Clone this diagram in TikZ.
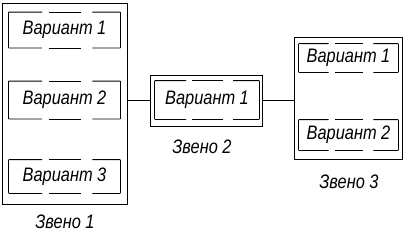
\documentclass[tikz,border=0pt]{standalone}
\usepackage{fontspec}
\usepackage{tikz}
\usetikzlibrary{calc}
\newfontfamily\gost{Liberation Sans}
\newcommand\narrow[1]{\scalebox{0.84}[1]{#1}}

% frame of a variant: solid sides, broken top and bottom
\newcommand\varframe[1]{%
	\draw (#1.north west) -- (#1.south west);
	\draw (#1.north east) -- (#1.south east);
	\draw (#1.north west) -- ($(#1.north west)!0.3!(#1.north east)$);
	\draw ($(#1.north west)!0.36!(#1.north east)$) -- ($(#1.north west)!0.65!(#1.north east)$);
	\draw ($(#1.north west)!0.75!(#1.north east)$) -- (#1.north east);
	\draw (#1.south west) -- ($(#1.south west)!0.3!(#1.south east)$);
	\draw ($(#1.south west)!0.36!(#1.south east)$) -- ($(#1.south west)!0.65!(#1.south east)$);
	\draw ($(#1.south west)!0.75!(#1.south east)$) -- (#1.south east);
}

\begin{document}
\begin{tikzpicture}[x=1pt, y=-1pt, line width=0.9pt,
		link/.style={draw, inner sep=0pt},
		variant/.style={inner sep=0pt, font=\gost\itshape\fontsize{19.5}{19.5}\selectfont},
		caption/.style={font=\gost\itshape\fontsize{19.5}{19.5}\selectfont}]
	\useasboundingbox (0,0) rectangle (407,233);

	% links
	\node[link, minimum width=125pt, minimum height=201pt] (Z1) at (64.5,103.5) {};
	\node[link, minimum width=112pt, minimum height=51pt] (Z2) at (206,100.5) {};
	\node[link, minimum width=108pt, minimum height=122pt] (Z3) at (348,98) {};

	% variants
	\node[variant, minimum width=111pt, minimum height=35pt] (Z1V1) at (64.5,30) {\narrow{Вариант 1}};
	\node[variant, minimum width=111pt, minimum height=37pt] (Z1V2) at (64.5,100) {\narrow{Вариант 2}};
	\node[variant, minimum width=111pt, minimum height=33pt] (Z1V3) at (64.5,176.5) {\narrow{Вариант 3}};
	\node[variant, minimum width=104pt, minimum height=38pt] (Z2V1) at (207,100) {\narrow{Вариант 1}};
	\node[variant, minimum width=99pt, minimum height=28pt] (Z3V1) at (348.5,58) {\narrow{Вариант 1}};
	\node[variant, minimum width=99pt, minimum height=30pt] (Z3V2) at (348.5,135) {\narrow{Вариант 2}};

	\varframe{Z1V1}
	\varframe{Z1V2}
	\varframe{Z1V3}
	\varframe{Z2V1}
	\varframe{Z3V1}
	\varframe{Z3V2}

	% captions
	\node[caption] (C1) at (65,222) {\narrow{Звено 1}};
	\node[caption] (C2) at (202,147) {\narrow{Звено 2}};
	\node[caption] (C3) at (349,182) {\narrow{Звено 3}};

	% connections
	\draw (Z1.east |- Z2.west) -- (Z2.west);
	\draw (Z2.east) -- (Z2.east -| Z3.west);
\end{tikzpicture}
\end{document}
